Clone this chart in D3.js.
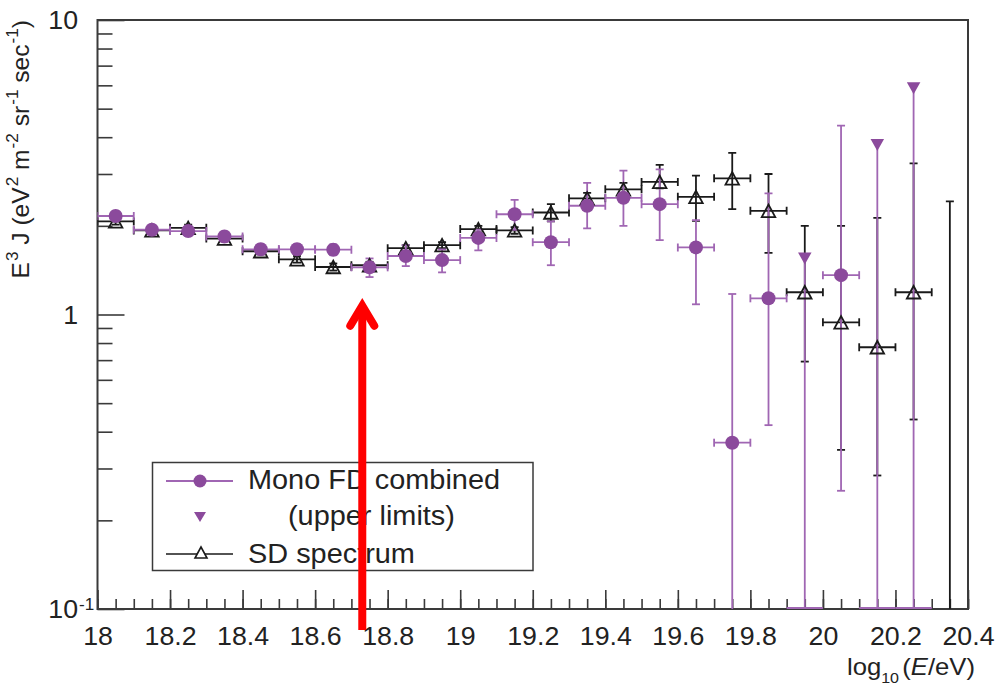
<!DOCTYPE html>
<html>
<head>
<meta charset="utf-8">
<script src="https://cdn.jsdelivr.net/npm/d3@7"></script>
<style>
  html, body { margin: 0; padding: 0; background: #fff; }
  svg { display: block; font-family: "Liberation Sans", Arial, sans-serif; }
</style>
</head>
<body>
<svg id="chart" width="1000" height="688"></svg>
<script>
// Bin centres in log10(E/eV); every bin is 0.1 wide
const binHalf = 0.05;

// Mono FD combined: E^3 J with asymmetric errors (lower / upper edge)
const fdE    = [18.05, 18.15, 18.25, 18.35, 18.45, 18.55, 18.65, 18.75, 18.85, 18.95,
                19.05, 19.15, 19.25, 19.35, 19.45, 19.55, 19.65, 19.75, 19.85, 20.05];
const fdFlux = [2.16, 1.94, 1.92, 1.84, 1.665, 1.665, 1.66, 1.446, 1.58, 1.53,
                1.82, 2.19, 1.76, 2.34, 2.49, 2.37, 1.69, 0.367, 1.135, 1.36];
const fdLow  = [2.08, 1.87, 1.85, 1.77, 1.60, 1.60, 1.59, 1.34, 1.46, 1.39,
                1.65, 1.94, 1.47, 1.96, 2.00, 1.79, 1.083, 0.01, 0.421, 0.252];
const fdHigh = [2.24, 2.01, 1.99, 1.91, 1.73, 1.73, 1.73, 1.55, 1.72, 1.665,
                1.94, 2.45, 2.07, 2.80, 3.08, 3.11, 2.09, 1.174, 2.58, 4.38];

// Mono FD upper limits
const ulE    = [19.95, 20.15, 20.25];
const ulFlux = [1.55, 3.76, 5.86];

// SD spectrum
const sdE    = [18.05, 18.15, 18.25, 18.35, 18.45, 18.55, 18.65, 18.75, 18.85, 18.95,
                19.05, 19.15, 19.25, 19.35, 19.45, 19.55, 19.65, 19.75, 19.85, 19.95,
                20.05, 20.15, 20.25, 20.35];
const sdFlux = [2.07, 1.93, 1.97, 1.81, 1.64, 1.54, 1.45, 1.47, 1.68, 1.72,
                1.95, 1.93, 2.22, 2.48, 2.66, 2.82, 2.51, 2.90, 2.25, 1.19,
                0.941, 0.774, 1.19, 0.02];
const sdLow  = [2.02, 1.88, 1.92, 1.77, 1.60, 1.50, 1.41, 1.43, 1.64, 1.68,
                1.90, 1.88, 2.07, 2.37, 2.53, 2.68, 2.08, 2.28, 1.62, 0.692,
                0.347, 0.284, 0.44, 0.01];
const sdHigh = [2.12, 1.98, 2.02, 1.85, 1.68, 1.58, 1.49, 1.51, 1.72, 1.76,
                2.00, 1.98, 2.37, 2.59, 2.80, 3.22, 2.96, 3.54, 3.00, 2.00,
                2.00, 2.13, 3.26, 2.42];

// Axis ticks
const xMajor = [18, 18.2, 18.4, 18.6, 18.8, 19, 19.2, 19.4, 19.6, 19.8, 20, 20.2, 20.4];
const xMinor = d3.range(0, 49).map(i => +(18 + i * 0.05).toFixed(2));
const yMajor = [0.1, 1, 10];
const yMinor = [0.2, 0.3, 0.4, 0.5, 0.6, 0.7, 0.8, 0.9, 2, 3, 4, 5, 6, 7, 8, 9];

// Red marker arrow position (log10 E) and tip value
const arrowE = 18.73;
const arrowTip = 1.14;

const FD_FILL = "#8b4a9c";
const FD_LINE = "#a066b3";
const INK = "#222";
const FRAME = "#3a3a3a";
const SX = 1.07;   // horizontal stretch used for all text

const svg = d3.select("#chart");
const pL = 97.5, pR = 968, pT = 20, pB = 609;

const x = d3.scaleLinear().domain([18, 20.4]).range([pL, pR]);
const y = d3.scaleLog().domain([0.1, 10]).range([pB, pT]);

svg.append("defs").append("clipPath").attr("id", "plotclip")
  .append("rect").attr("x", pL).attr("y", pT)
  .attr("width", pR - pL).attr("height", pB - pT);

// ---- axes (ticks point inward) ----
const gx = svg.append("g").attr("transform", `translate(0,${pB})`);
gx.append("g").call(d3.axisBottom(x).tickValues(xMinor).tickSize(-10).tickSizeOuter(0).tickFormat(""));
const gxMaj = gx.append("g").call(d3.axisBottom(x).tickValues(xMajor).tickSize(-19)
  .tickSizeOuter(0).tickPadding(18).tickFormat(d => String(+d.toFixed(1))));
gx.selectAll(".domain").remove();
gx.selectAll("line").attr("stroke", FRAME).attr("stroke-width", 1.6);
gxMaj.selectAll("text").attr("font-size", 25).attr("fill", INK)
  .attr("font-family", "Liberation Sans, Arial, sans-serif")
  .attr("transform", `scale(${SX},1)`);

const gy = svg.append("g").attr("transform", `translate(${pL},0)`);
gy.append("g").call(d3.axisLeft(y).tickValues(yMinor).tickSize(-15).tickSizeOuter(0).tickFormat(""));
gy.append("g").call(d3.axisLeft(y).tickValues(yMajor).tickSize(-27).tickSizeOuter(0).tickFormat(""));
gy.selectAll(".domain").remove();
gy.selectAll("line").attr("stroke", FRAME).attr("stroke-width", 1.6);

// y tick labels: 10^-1, 1, 10
yMajor.forEach(v => {
  const exp = Math.round(Math.log10(v));
  const g = svg.append("g").attr("transform", `translate(${pL - 19.5},${y(v) + 9}) scale(${SX},1)`);
  const t = g.append("text").attr("text-anchor", "end").attr("font-size", 25).attr("fill", INK);
  if (exp === 0) t.text("1");
  else if (exp === 1) t.text("10");
  else {
    t.text("10");
    g.append("text").attr("x", 1).attr("y", -8).attr("font-size", 16).attr("fill", INK)
      .text("-" + String(-exp));
  }
});

// frame
svg.append("rect").attr("x", pL).attr("y", pT)
  .attr("width", pR - pL).attr("height", pB - pT)
  .attr("fill", "none").attr("stroke", FRAME).attr("stroke-width", 2);

// ---- data ----
const plot = svg.append("g").attr("clip-path", "url(#plotclip)");
const cap = 4;

function errorBars(g, es, vals, lows, highs, color) {
  es.forEach((e, i) => {
    const cx = x(e), cy = y(vals[i]);
    const x0 = x(e - binHalf), x1 = x(e + binHalf);
    const ylo = lows[i] <= 0.1 ? pB + 5 : y(lows[i]);
    const yhi = y(highs[i]);
    const s = g.append("g").attr("stroke", color).attr("stroke-width", 1.8).attr("fill", "none");
    s.append("line").attr("x1", x0).attr("x2", x1).attr("y1", cy).attr("y2", cy);
    s.append("line").attr("x1", x0).attr("x2", x0).attr("y1", cy - cap).attr("y2", cy + cap);
    s.append("line").attr("x1", x1).attr("x2", x1).attr("y1", cy - cap).attr("y2", cy + cap);
    s.append("line").attr("x1", cx).attr("x2", cx).attr("y1", ylo).attr("y2", yhi);
    s.append("line").attr("x1", cx - cap).attr("x2", cx + cap).attr("y1", yhi).attr("y2", yhi);
    if (lows[i] > 0.1)
      s.append("line").attr("x1", cx - cap).attr("x2", cx + cap).attr("y1", ylo).attr("y2", ylo);
  });
}

const triDown = (cx, cy, w, h) =>
  `M${cx - w / 2},${cy - h / 2}L${cx + w / 2},${cy - h / 2}L${cx},${cy + h / 2}Z`;
const triUpPath = (cx, cy, w, h) =>
  `M${cx - w / 2},${cy + h / 2}L${cx + w / 2},${cy + h / 2}L${cx},${cy - h / 2}Z`;

// SD error bars
errorBars(plot, sdE, sdFlux, sdLow, sdHigh, "#1a1a1a");

// FD error bars
errorBars(plot, fdE, fdFlux, fdLow, fdHigh, FD_LINE);

// FD upper limits: line from the limit down to the axis, bin bar along the axis
ulE.forEach((e, i) => {
  const cx = x(e);
  plot.append("line").attr("x1", cx).attr("x2", cx).attr("y1", y(ulFlux[i])).attr("y2", pB + 5)
    .attr("stroke", FD_LINE).attr("stroke-width", 1.8);
  plot.append("line").attr("x1", x(e - binHalf)).attr("x2", x(e + binHalf))
    .attr("y1", pB - 1).attr("y2", pB - 1)
    .attr("stroke", FD_LINE).attr("stroke-width", 2.2);
});

// SD open triangles
plot.selectAll(".sd").data(sdE.map((e, i) => [e, sdFlux[i]]).filter(d => d[1] > 0.1))
  .enter().append("path")
  .attr("d", d => triUpPath(x(d[0]), y(d[1]), 13.5, 12.5))
  .attr("fill", "none").attr("stroke", "#1a1a1a").attr("stroke-width", 1.8);

// FD circles
plot.selectAll(".fd").data(fdE.map((e, i) => [e, fdFlux[i]]))
  .enter().append("circle")
  .attr("cx", d => x(d[0])).attr("cy", d => y(d[1])).attr("r", 7)
  .attr("fill", FD_FILL);

// FD upper-limit markers
plot.selectAll(".ul").data(ulE.map((e, i) => [e, ulFlux[i]]))
  .enter().append("path")
  .attr("d", d => triDown(x(d[0]), y(d[1]), 13.5, 12))
  .attr("fill", FD_FILL);

// ---- axis titles ----
const xt = svg.append("g").attr("transform", `translate(975,675) scale(${SX},1)`)
  .append("text").attr("text-anchor", "end").attr("font-size", 24).attr("fill", INK);
xt.append("tspan").text("log");
xt.append("tspan").attr("font-size", 15).attr("dy", 8).text("10");
xt.append("tspan").attr("dy", -8).attr("dx", 3).text("(");
xt.append("tspan").attr("font-style", "italic").text("E");
xt.append("tspan").text("/eV)");

const yt = svg.append("g").attr("transform", `translate(29,${pT}) rotate(-90) scale(${SX},1)`)
  .append("text").attr("text-anchor", "end").attr("font-size", 23).attr("fill", INK);
const ytParts = [["E", null], ["3", "sup"], [" J (eV", null], ["2", "sup"], [" m", null], ["-2", "sup"],
                 [" sr", null], ["-1", "sup"], [" sec", null], ["-1", "sup"], [")", null]];
let raised = false;
ytParts.forEach(([s, kind]) => {
  const ts = yt.append("tspan").text(s);
  if (kind === "sup") { ts.attr("font-size", 16).attr("dy", -11).attr("dx", 1); raised = true; }
  else if (raised) { ts.attr("dy", 11); raised = false; }
});

// ---- legend ----
const lg = svg.append("g");
lg.append("rect").attr("x", 152.5).attr("y", 462.5).attr("width", 380.5).attr("height", 108)
  .attr("fill", "#fff").attr("stroke", FRAME).attr("stroke-width", 1.5);
lg.append("line").attr("x1", 166).attr("x2", 233).attr("y1", 481).attr("y2", 481)
  .attr("stroke", FD_LINE).attr("stroke-width", 1.8);
lg.append("circle").attr("cx", 200).attr("cy", 481).attr("r", 6.5).attr("fill", FD_FILL);
lg.append("path").attr("d", triDown(200, 517, 12, 10)).attr("fill", FD_FILL);
lg.append("line").attr("x1", 166).attr("x2", 233).attr("y1", 554).attr("y2", 554)
  .attr("stroke", "#1a1a1a").attr("stroke-width", 1.6);
lg.append("path").attr("d", triUpPath(201, 552.5, 12, 11))
  .attr("fill", "#fff").attr("stroke", "#1a1a1a").attr("stroke-width", 1.6);
[["Mono FD combined", 248, 489], ["(upper limits)", 288, 525], ["SD spectrum", 248, 563]]
  .forEach(([s, tx, ty]) => {
    lg.append("g").attr("transform", `translate(${tx},${ty}) scale(${SX},1)`)
      .append("text").attr("font-size", 27).attr("fill", INK).text(s);
  });

// ---- red arrow ----
const ax = x(arrowE), aTip = y(arrowTip);
const arrow = svg.append("g").attr("stroke", "#ff0000").attr("stroke-width", 8).attr("fill", "none");
arrow.append("line").attr("x1", ax).attr("x2", ax).attr("y1", pB + 21).attr("y2", aTip + 12);
arrow.append("path")
  .attr("d", `M${ax - 12},${aTip + 28}L${ax},${aTip + 8}L${ax + 12},${aTip + 28}`)
  .attr("stroke-linecap", "round").attr("stroke-linejoin", "miter");
</script>
</body>
</html>
